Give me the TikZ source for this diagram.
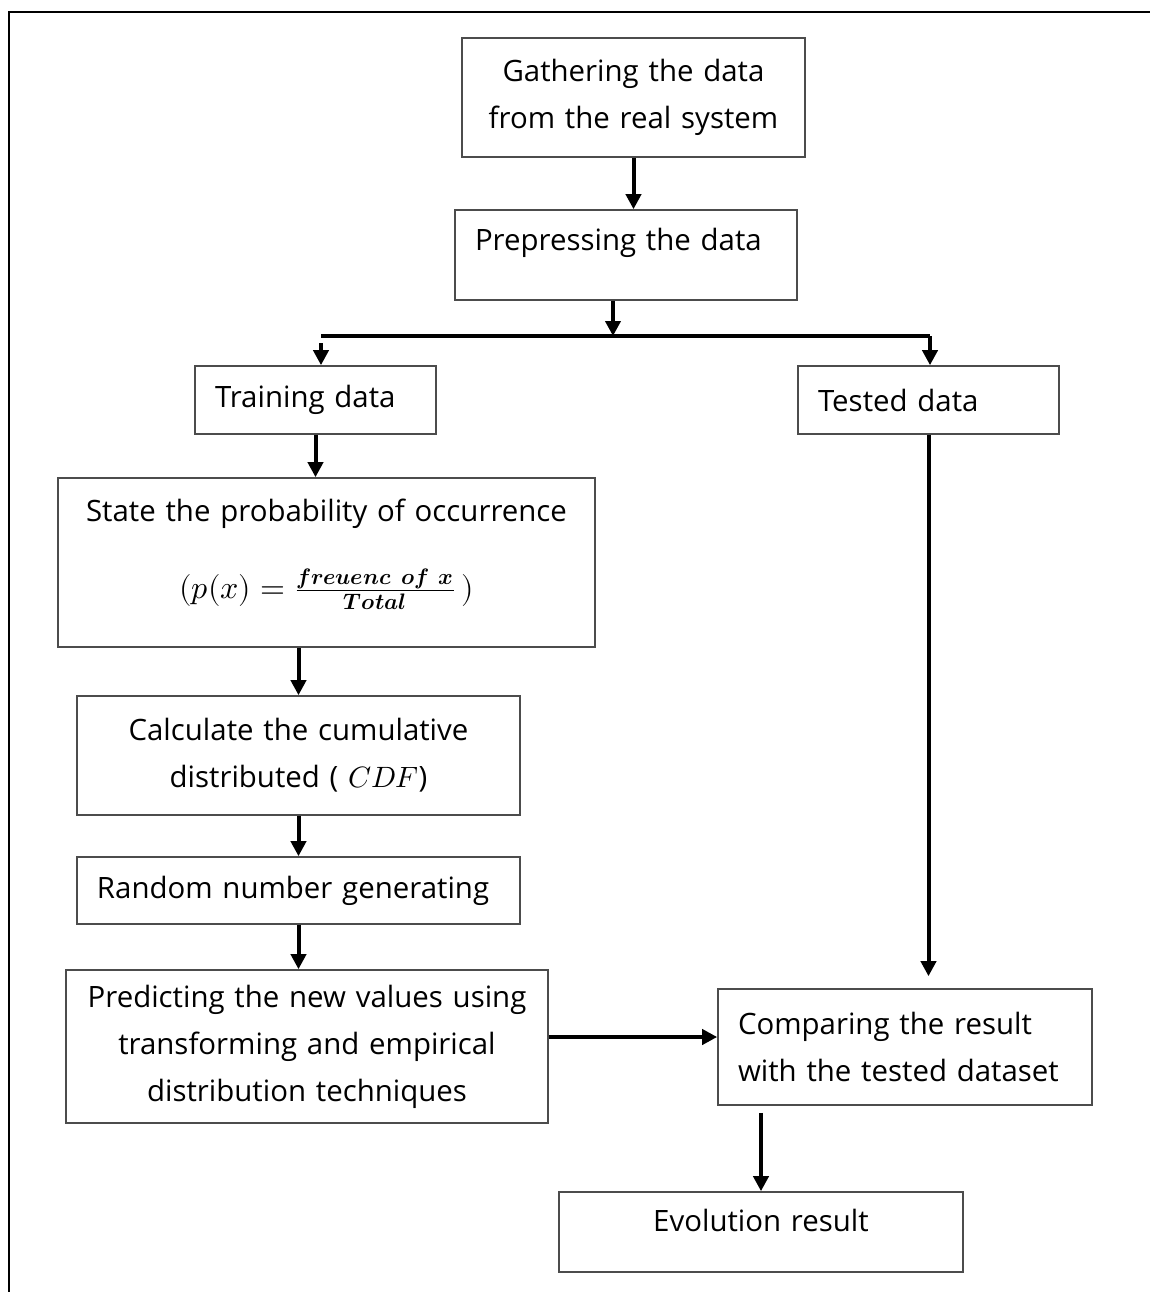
\documentclass[tikz,border=0pt]{standalone}
\usepackage{amsmath}
\usepackage{fontspec}
\usepackage{unicode-math}
\setmainfont{Open Sans}
\setmathfont{Latin Modern Math}
\usetikzlibrary{arrows.meta}

\tikzset{
  blk/.style={draw=black!70, line width=0.8pt, rectangle, inner xsep=10pt, inner ysep=0pt,
    font=\fontsize{14.7}{23.5}\selectfont},
  arr/.style={-{Triangle[length=7.5pt,width=7.5pt]}, line width=2pt},
}

\begin{document}
\begin{tikzpicture}[x=0.5pt,y=-0.5pt]

\useasboundingbox (0,0) rectangle (1150,1292);
\draw[line width=1.2pt] (9,1292) |- (1150,12);

\node[blk, align=center, text width=151.5pt, minimum height=59.5pt] (gather) at (633.5,97.5)
  {Gathering the data\\from the real system};
\node[blk, align=left, text width=151pt, minimum height=45pt, text depth=16pt] (prep) at (626,255)
  {Prepressing the data};
\node[blk, align=left, text width=100.5pt, minimum height=34pt] (train) at (315.5,400)
  {Training data};
\node[blk, align=left, text width=110.5pt, minimum height=34pt] (tested) at (928.5,400)
  {Tested data};
\node[blk, align=center, text width=248.5pt, minimum height=84.5pt, text depth=52pt] (state) at (326.5,562.5)
  {State the probability of occurrence\\[15pt]
   \mbox{\fontsize{16}{20}\selectfont$(p(x) = \frac{\symbfit{freuenc\ of\ x}}{\symbfit{Total}}\,)$}};
\node[blk, align=center, text width=201.5pt, minimum height=59.5pt] (calc) at (298.5,755.5)
  {Calculate the cumulative\\distributed ( $CDF$)};
\node[blk, align=left, text width=201.5pt, minimum height=33.5pt] (rand) at (298.5,890.5)
  {Random number generating};
\node[blk, align=center, text width=221pt, minimum height=76.5pt] (pred) at (307,1046.5)
  {Predicting the new values using\\transforming and empirical\\distribution techniques};
\node[blk, align=left, text width=167pt, minimum height=58pt] (comp) at (905,1047)
  {Comparing the result\\with the tested dataset};
\node[blk, align=center, text width=182pt, minimum height=40pt, text depth=12pt] (evol) at (761,1232)
  {Evolution result};

\coordinate (split) at (613,336);
\coordinate (lft) at (321,336);
\coordinate (rgt) at (930,336);

\draw[arr] (gather.south) -- (prep.north -| gather.south);
\draw[arr] (split |- prep.south) -- (split);
\draw[line width=2pt] (lft) -- (rgt);
\draw[arr, shorten <=3.5pt] (lft) -- (lft |- train.north);
\draw[arr] (rgt) -- (rgt |- tested.north);

\draw[arr] (train.south) -- (train.south |- state.north);
\draw[arr] (state.south -| calc.north) -- (calc.north);
\draw[arr] (calc.south) -- (rand.north);
\draw[arr] (rand.south) -- (rand.south |- pred.north);
\draw[arr] ([yshift=4.75pt]pred.east) -- ([yshift=4.75pt]pred.east -| comp.west);
\draw[arr, shorten >=6pt] (tested.south) -- (tested.south |- comp.north);
\draw[arr, shorten <=3.5pt] (comp.south -| evol.north) -- (evol.north);

\end{tikzpicture}
\end{document}
